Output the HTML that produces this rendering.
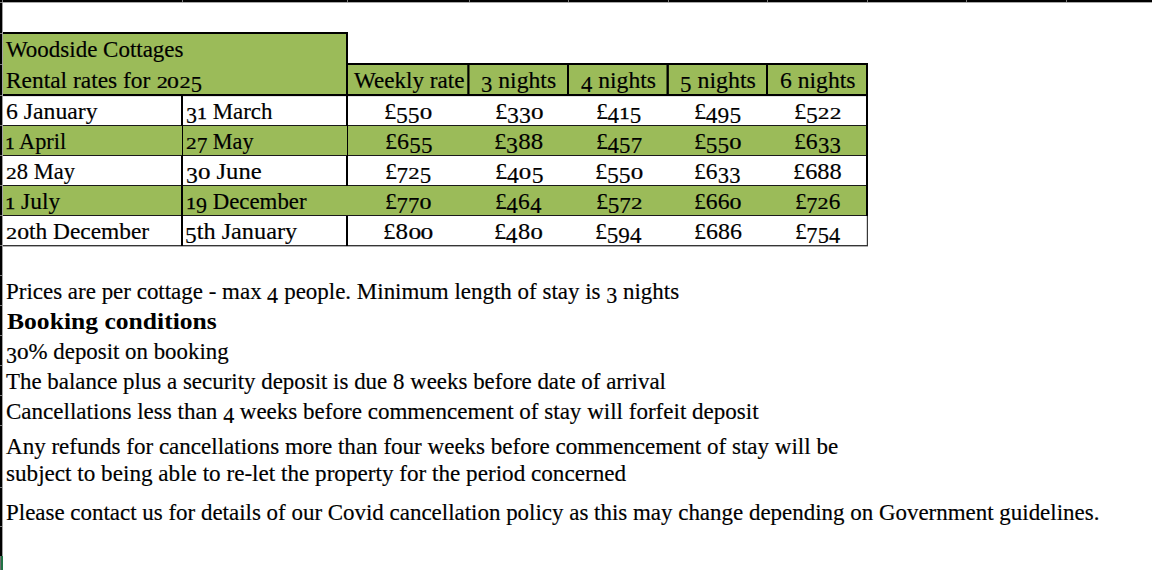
<!DOCTYPE html>
<html lang="en"><head><meta charset="utf-8"><title>Woodside Cottages - Rental rates for 2025</title>
<style>
html,body{margin:0;padding:0;background:#fff}
body{width:1152px;height:570px;position:relative;overflow:hidden;font-family:"Liberation Serif",serif;font-size:22.7px;color:#000}
.b{position:absolute}
.t{position:absolute;white-space:nowrap;line-height:30px;height:30px;transform-origin:0 0;-webkit-text-stroke:0.17px #000}
.bd{font-weight:bold;-webkit-text-stroke:0}
.d{display:inline-block;line-height:1;font-size:23.2px;position:relative;top:4.4px;transform:scaleX(.94);transform-origin:0 100%;width:10.9px}
.s{display:inline-block;line-height:1;font-size:17.3px;transform-origin:0 100%;-webkit-text-stroke:0.22px #000}
.s0{transform:scaleX(1.33);width:11.5px}
.s1{transform:scaleX(1.15);width:9.95px;-webkit-text-stroke:0.4px #000}
.s2{transform:scaleX(1.25);width:10.8px}
</style></head>
<body>
<div class="b" style="left:3px;top:34px;width:343px;height:60px;background:#9bbb59"></div>
<div class="b" style="left:348px;top:65px;width:518px;height:29px;background:#9bbb59"></div>
<div class="b" style="left:3px;top:126px;width:863px;height:29px;background:#9bbb59"></div>
<div class="b" style="left:3px;top:186px;width:863px;height:29px;background:#9bbb59"></div>
<div class="b" style="left:3px;top:96px;width:865px;height:1px;background:#e4e4e4"></div>
<div class="b" style="left:0px;top:2px;width:1152px;height:1px;background:#a8a8a8"></div>
<div class="b" style="left:2px;top:0px;width:1px;height:570px;background:#a0a0a0"></div>
<div class="b" style="left:0px;top:0px;width:1152px;height:2px;background:#000"></div>
<div class="b" style="left:0px;top:0px;width:2px;height:570px;background:#000"></div>
<div class="b" style="left:2px;top:0px;width:1px;height:2px;background:#7a7a7a"></div>
<div class="b" style="left:182px;top:0px;width:1px;height:2px;background:#7a7a7a"></div>
<div class="b" style="left:347px;top:0px;width:1px;height:2px;background:#7a7a7a"></div>
<div class="b" style="left:469px;top:0px;width:1px;height:2px;background:#7a7a7a"></div>
<div class="b" style="left:568px;top:0px;width:1px;height:2px;background:#7a7a7a"></div>
<div class="b" style="left:668px;top:0px;width:1px;height:2px;background:#7a7a7a"></div>
<div class="b" style="left:767px;top:0px;width:1px;height:2px;background:#7a7a7a"></div>
<div class="b" style="left:867px;top:0px;width:1px;height:2px;background:#7a7a7a"></div>
<div class="b" style="left:966px;top:0px;width:1px;height:2px;background:#7a7a7a"></div>
<div class="b" style="left:1066px;top:0px;width:1px;height:2px;background:#7a7a7a"></div>
<div class="b" style="left:0px;top:2px;width:2px;height:1px;background:#7a7a7a"></div>
<div class="b" style="left:0px;top:33px;width:2px;height:1px;background:#7a7a7a"></div>
<div class="b" style="left:0px;top:64px;width:2px;height:1px;background:#7a7a7a"></div>
<div class="b" style="left:0px;top:95px;width:2px;height:1px;background:#7a7a7a"></div>
<div class="b" style="left:0px;top:125px;width:2px;height:1px;background:#7a7a7a"></div>
<div class="b" style="left:0px;top:155px;width:2px;height:1px;background:#7a7a7a"></div>
<div class="b" style="left:0px;top:185px;width:2px;height:1px;background:#7a7a7a"></div>
<div class="b" style="left:0px;top:215px;width:2px;height:1px;background:#7a7a7a"></div>
<div class="b" style="left:0px;top:245px;width:2px;height:1px;background:#7a7a7a"></div>
<div class="b" style="left:0px;top:275px;width:2px;height:1px;background:#7a7a7a"></div>
<div class="b" style="left:0px;top:305px;width:2px;height:1px;background:#7a7a7a"></div>
<div class="b" style="left:0px;top:335px;width:2px;height:1px;background:#7a7a7a"></div>
<div class="b" style="left:0px;top:365px;width:2px;height:1px;background:#7a7a7a"></div>
<div class="b" style="left:0px;top:395px;width:2px;height:1px;background:#7a7a7a"></div>
<div class="b" style="left:0px;top:425px;width:2px;height:1px;background:#7a7a7a"></div>
<div class="b" style="left:0px;top:487px;width:2px;height:1px;background:#7a7a7a"></div>
<div class="b" style="left:0px;top:526px;width:2px;height:1px;background:#7a7a7a"></div>
<div class="b" style="left:0px;top:556px;width:1px;height:14px;background:#6e6e6e"></div>
<div class="b" style="left:1px;top:556px;width:2px;height:14px;background:#217346"></div>
<div class="b" style="left:3px;top:32px;width:345px;height:2px;background:#000"></div>
<div class="b" style="left:346px;top:32px;width:2px;height:64px;background:#000"></div>
<div class="b" style="left:3px;top:94px;width:865px;height:2px;background:#000"></div>
<div class="b" style="left:346px;top:63px;width:522px;height:2px;background:#000"></div>
<div class="b" style="left:866px;top:63px;width:2px;height:153px;background:#000"></div>
<div class="b" style="left:867px;top:216px;width:1px;height:30px;background:#383838"></div>
<div class="b" style="left:866px;top:216px;width:1px;height:30px;background:#d4d4d4"></div>
<div class="b" style="left:567px;top:65px;width:2px;height:29px;background:#000"></div>
<div class="b" style="left:766px;top:65px;width:2px;height:29px;background:#000"></div>
<div class="b" style="left:467px;top:65px;width:1px;height:29px;background:rgba(0,0,0,.7)"></div>
<div class="b" style="left:468px;top:65px;width:1px;height:29px;background:#000"></div>
<div class="b" style="left:469px;top:65px;width:1px;height:29px;background:rgba(0,0,0,.5)"></div>
<div class="b" style="left:666px;top:65px;width:1px;height:29px;background:rgba(0,0,0,.5)"></div>
<div class="b" style="left:667px;top:65px;width:1px;height:29px;background:#000"></div>
<div class="b" style="left:668px;top:65px;width:1px;height:29px;background:rgba(0,0,0,.85)"></div>
<div class="b" style="left:3px;top:125px;width:863px;height:1px;background:#1a1a1a"></div>
<div class="b" style="left:3px;top:155px;width:863px;height:1px;background:#1a1a1a"></div>
<div class="b" style="left:3px;top:185px;width:863px;height:1px;background:#1a1a1a"></div>
<div class="b" style="left:3px;top:215px;width:863px;height:1px;background:#1a1a1a"></div>
<div class="b" style="left:3px;top:245px;width:865px;height:1px;background:#363636"></div>
<div class="b" style="left:3px;top:246px;width:865px;height:1px;background:#b0b0b0"></div>
<div class="b" style="left:181px;top:96px;width:2px;height:30px;background:#000"></div>
<div class="b" style="left:346px;top:96px;width:2px;height:30px;background:#000"></div>
<div class="b" style="left:182px;top:126px;width:1px;height:30px;background:#000"></div>
<div class="b" style="left:347px;top:126px;width:1px;height:30px;background:#000"></div>
<div class="b" style="left:181px;top:156px;width:2px;height:30px;background:#000"></div>
<div class="b" style="left:346px;top:156px;width:2px;height:30px;background:#000"></div>
<div class="b" style="left:181px;top:186px;width:2px;height:30px;background:#000"></div>
<div class="b" style="left:181px;top:216px;width:2px;height:30px;background:#000"></div>
<div class="b" style="left:346px;top:216px;width:2px;height:30px;background:#000"></div>
<div class="t" id="h1" style="left:6.13px;top:35.00px;transform:scaleX(1.0128)">Woodside Cottages</div>
<div class="t" id="h2" style="left:5.87px;top:66.00px;transform:scaleX(1.0321)">Rental rates for <span class="s s2">2</span><span class="s s0">0</span><span class="s s2">2</span><span class="d">5</span></div>
<div class="t" id="c0" style="left:354.26px;top:66.00px;transform:scaleX(1.0192)">Weekly rate</div>
<div class="t" id="c1" style="left:481.23px;top:66.00px;transform:scaleX(1.0431)"><span class="d">3</span> nights</div>
<div class="t" id="c2" style="left:581.36px;top:66.00px;transform:scaleX(1.0410)"><span class="d">4</span> nights</div>
<div class="t" id="c3" style="left:680.20px;top:66.00px;transform:scaleX(1.0534)"><span class="d">5</span> nights</div>
<div class="t" id="c4" style="left:779.99px;top:66.00px;transform:scaleX(1.0407)">6 nights</div>
<div class="t" id="r0_0" style="left:5.72px;top:97.00px;transform:scaleX(1.0462)">6 January</div>
<div class="t" id="r0_1" style="left:185.74px;top:97.00px;transform:scaleX(1.0087)"><span class="d">3</span><span class="s s1">1</span> March</div>
<div class="t" id="r0_2" style="left:384.16px;top:97.00px;transform:scaleX(1.0845)">£<span class="d">5</span><span class="d">5</span><span class="s s0">0</span></div>
<div class="t" id="r0_3" style="left:494.82px;top:97.00px;transform:scaleX(1.0894)">£<span class="d">3</span><span class="d">3</span><span class="s s0">0</span></div>
<div class="t" id="r0_4" style="left:595.63px;top:97.00px;transform:scaleX(1.0548)">£<span class="d">4</span><span class="s s1">1</span><span class="d">5</span></div>
<div class="t" id="r0_5" style="left:694.34px;top:97.00px;transform:scaleX(1.0720)">£<span class="d">4</span><span class="d">9</span><span class="d">5</span></div>
<div class="t" id="r0_6" style="left:794.07px;top:97.00px;transform:scaleX(1.0814)">£<span class="d">5</span><span class="s s2">2</span><span class="s s2">2</span></div>
<div class="t" id="r1_0" style="left:4.95px;top:127.00px;transform:scaleX(0.9814)"><span class="s s1">1</span> April</div>
<div class="t" id="r1_1" style="left:186.13px;top:127.00px;transform:scaleX(0.9807)"><span class="s s2">2</span><span class="d">7</span> May</div>
<div class="t" id="r1_2" style="left:384.63px;top:127.00px;transform:scaleX(1.0581)">£6<span class="d">5</span><span class="d">5</span></div>
<div class="t" id="r1_3" style="left:494.17px;top:127.00px;transform:scaleX(1.0953)">£<span class="d">3</span>88</div>
<div class="t" id="r1_4" style="left:595.64px;top:127.00px;transform:scaleX(1.0494)">£<span class="d">4</span><span class="d">5</span><span class="d">7</span></div>
<div class="t" id="r1_5" style="left:694.33px;top:127.00px;transform:scaleX(1.0677)">£<span class="d">5</span><span class="d">5</span><span class="s s0">0</span></div>
<div class="t" id="r1_6" style="left:793.69px;top:127.00px;transform:scaleX(1.0459)">£6<span class="d">3</span><span class="d">3</span></div>
<div class="t" id="r2_0" style="left:5.94px;top:157.00px;transform:scaleX(0.9936)"><span class="s s2">2</span>8 May</div>
<div class="t" id="r2_1" style="left:186.24px;top:157.00px;transform:scaleX(1.0869)"><span class="d">3</span><span class="s s0">0</span> June</div>
<div class="t" id="r2_2" style="left:384.65px;top:157.00px;transform:scaleX(1.0538)">£<span class="d">7</span><span class="s s2">2</span><span class="d">5</span></div>
<div class="t" id="r2_3" style="left:494.83px;top:157.00px;transform:scaleX(1.0831)">£<span class="d">4</span><span class="s s0">0</span><span class="d">5</span></div>
<div class="t" id="r2_4" style="left:594.84px;top:157.00px;transform:scaleX(1.0845)">£<span class="d">5</span><span class="d">5</span><span class="s s0">0</span></div>
<div class="t" id="r2_5" style="left:693.97px;top:157.00px;transform:scaleX(1.0368)">£6<span class="d">3</span><span class="d">3</span></div>
<div class="t" id="r2_6" style="left:793.09px;top:157.00px;transform:scaleX(1.0741)">£688</div>
<div class="t" id="r3_0" style="left:4.96px;top:187.00px;transform:scaleX(1.0320)"><span class="s s1">1</span> July</div>
<div class="t" id="r3_1" style="left:186.09px;top:187.00px;transform:scaleX(1.0071)"><span class="s s1">1</span><span class="d">9</span> December</div>
<div class="t" id="r3_2" style="left:384.94px;top:187.00px;transform:scaleX(1.0421)">£<span class="d">7</span><span class="d">7</span><span class="s s0">0</span></div>
<div class="t" id="r3_3" style="left:495.01px;top:187.00px;transform:scaleX(1.0346)">£<span class="d">4</span>6<span class="d">4</span></div>
<div class="t" id="r3_4" style="left:595.58px;top:187.00px;transform:scaleX(1.0623)">£<span class="d">5</span><span class="d">7</span><span class="s s2">2</span></div>
<div class="t" id="r3_5" style="left:693.91px;top:187.00px;transform:scaleX(1.0427)">£66<span class="s s0">0</span></div>
<div class="t" id="r3_6" style="left:795.07px;top:187.00px;transform:scaleX(1.0245)">£<span class="d">7</span><span class="s s2">2</span>6</div>
<div class="t" id="r4_0" style="left:5.75px;top:217.00px;transform:scaleX(1.0312)"><span class="s s2">2</span><span class="s s0">0</span>th December</div>
<div class="t" id="r4_1" style="left:184.93px;top:217.00px;transform:scaleX(1.0707)"><span class="d">5</span>th January</div>
<div class="t" id="r4_2" style="left:383.06px;top:217.00px;transform:scaleX(1.1044)">£8<span class="s s0">0</span><span class="s s0">0</span></div>
<div class="t" id="r4_3" style="left:494.23px;top:217.00px;transform:scaleX(1.0751)">£<span class="d">4</span>8<span class="s s0">0</span></div>
<div class="t" id="r4_4" style="left:594.90px;top:217.00px;transform:scaleX(1.0596)">£<span class="d">5</span><span class="d">9</span><span class="d">4</span></div>
<div class="t" id="r4_5" style="left:694.45px;top:217.00px;transform:scaleX(1.0550)">£686</div>
<div class="t" id="r4_6" style="left:795.05px;top:217.00px;transform:scaleX(1.0290)">£<span class="d">7</span><span class="d">5</span><span class="d">4</span></div>
<div class="t" id="p1" style="left:6.30px;top:277.00px;transform:scaleX(1.0121)">Prices are per cottage - max <span class="d">4</span> people. Minimum length of stay is <span class="d">3</span> nights</div>
<div class="t bd" id="p2" style="left:6.94px;top:307.00px;transform:scaleX(1.1278)">Booking conditions</div>
<div class="t" id="p3" style="left:5.59px;top:337.00px;transform:scaleX(1.0078)"><span class="d">3</span><span class="s s0">0</span>% deposit on booking</div>
<div class="t" id="p4" style="left:6.00px;top:367.00px;transform:scaleX(1.0102)">The balance plus a security deposit is due 8 weeks before date of arrival</div>
<div class="t" id="p5" style="left:6.39px;top:397.00px;transform:scaleX(1.0156)">Cancellations less than <span class="d">4</span> weeks before commencement of stay will forfeit deposit</div>
<div class="t" id="p6" style="left:5.66px;top:432.00px;transform:scaleX(1.0153)">Any refunds for cancellations more than four weeks before commencement of stay will be</div>
<div class="t" id="p7" style="left:6.42px;top:459.00px;transform:scaleX(1.0200)">subject to being able to re-let the property for the period concerned</div>
<div class="t" id="p8" style="left:6.03px;top:498.00px;transform:scaleX(1.0113)">Please contact us for details of our Covid cancellation policy as this may change depending on Government guidelines.</div>
</body></html>
